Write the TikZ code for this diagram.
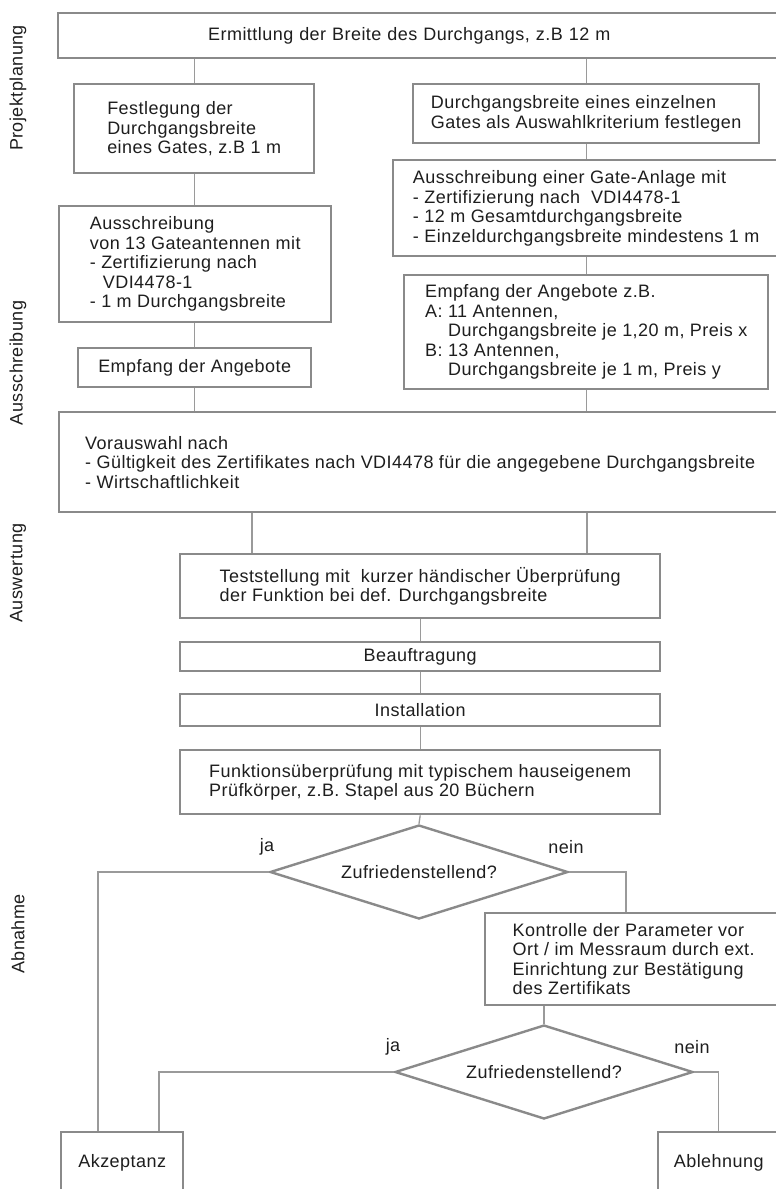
\documentclass[tikz,border=0pt]{standalone}
\usepackage{fontspec}
\setmainfont{Liberation Sans}[LetterSpace=2.5]
\usetikzlibrary{shapes.geometric}
\definecolor{rahmen}{HTML}{8A8A8A}
\definecolor{strich}{HTML}{9A9A9A}
\definecolor{schrift}{HTML}{1E1E1E}
\begin{document}
\begin{tikzpicture}[x=1pt, y=-1pt, font=\fontsize{18}{19.5}\selectfont, text=schrift,
    kasten/.style={draw=rahmen, line width=2.4pt, fill=white, anchor=north west, align=left, inner ysep=0pt},
    raute/.style={diamond, draw=rahmen, line width=2.4pt, fill=white, aspect=3.17, minimum width=298pt, minimum height=94pt, inner sep=0pt},
    verbinder/.style={draw=strich, line width=1.3pt},
    phase/.style={rotate=90}]
    \useasboundingbox (0,0) rectangle (776,1189);
    \clip (0,0) rectangle (776,1189);
    % Phasen am linken Rand
    \node[phase] (p1) at (18,88) {Projektplanung};
    \node[phase] (p2) at (18,363) {Ausschreibung};
    \node[phase] (p3) at (18,573) {Auswertung};
    \node[phase] (p4) at (18,934) {Abnahme};
    % Projektplanung
    \node[kasten, text width=423pt, inner xsep=150pt, minimum height=45pt] (ermitt) at (57,12) {Ermittlung der Breite des Durchgangs, z.B 12 m};
    \node[kasten, minimum width=240pt, minimum height=89pt] (festl) at (73,83) {Festlegung der\\Durchgangsbreite\\eines Gates, z.B 1 m};
    \node[kasten, minimum width=346pt, minimum height=59pt] (durchg) at (412,83) {Durchgangsbreite eines einzelnen\\Gates als Auswahlkriterium festlegen};
    % Ausschreibung
    \node[kasten, minimum width=272pt, minimum height=116pt] (ausschr) at (58,205) {Ausschreibung\\von 13 Gateantennen mit\\- Zertifizierung nach\\\hspace*{13pt}VDI4478-1\\- 1 m Durchgangsbreite};
    \node[kasten, minimum width=386pt, minimum height=96pt] (gate) at (392,159) {Ausschreibung einer Gate-Anlage mit\\- Zertifizierung nach \ VDI4478-1\\- 12 m Gesamtdurchgangsbreite\\- Einzeldurchgangsbreite mindestens 1 m};
    \node[kasten, minimum width=233pt, minimum height=39pt] (empf) at (77,347) {Empfang der Angebote};
    \node[kasten, minimum width=364pt, minimum height=114pt] (angeb) at (403,274) {Empfang der Angebote z.B.\\A: 11 Antennen,\\\hspace*{23pt}Durchgangsbreite je 1,20 m, Preis x\\B: 13 Antennen,\\\hspace*{23pt}Durchgangsbreite je 1 m, Preis y};
    % Auswertung
    \node[kasten, minimum width=722pt, minimum height=100pt] (vorausw) at (58,411) {Vorauswahl nach\\- Gültigkeit des Zertifikates nach VDI4478 für die angegebene Durchgangsbreite\\- Wirtschaftlichkeit};
    \node[kasten, minimum width=480pt, minimum height=64pt] (test) at (179,553) {Teststellung mit \ kurzer händischer Überprüfung\\der Funktion bei def. Durchgangsbreite};
    \node[kasten, minimum width=480pt, minimum height=29pt] (beauf) at (179,641) {Beauftragung};
    \node[kasten, minimum width=480pt, minimum height=32pt] (inst) at (179,693) {Installation};
    % Abnahme
    \node[kasten, minimum width=480pt, minimum height=64pt] (funkt) at (179,749) {Funktionsüberprüfung mit typischem hauseigenem\\Prüfkörper, z.B. Stapel aus 20 Büchern};
    \node[raute] (dia1) at (419,872) {Zufriedenstellend?};
    \node[kasten, minimum width=297pt, minimum height=92pt] (kontr) at (484,912) {Kontrolle der Parameter vor\\Ort / im Messraum durch ext.\\Einrichtung zur Bestätigung\\des Zertifikats};
    \node[raute] (dia2) at (544,1072) {Zufriedenstellend?};
    \node[kasten, minimum width=122pt, minimum height=61pt] (akz) at (60,1131) {Akzeptanz};
    \node[kasten, minimum width=121pt, minimum height=61pt] (abl) at (657,1131) {Ablehnung};
    \node (ja1) at (267,847) {ja};
    \node (nein1) at (566,847) {nein};
    \node (ja2) at (393,1047) {ja};
    \node (nein2) at (692,1047) {nein};
    % Verbindungen
    \coordinate (k1) at (98,0);
    \coordinate (k2) at (626,0);
    \coordinate (k3) at (159,0);
    \coordinate (v1) at (252,0);
    \coordinate (v2) at (587,0);
    \draw[verbinder] (ermitt.south -| festl.north) -- (festl.north);
    \draw[verbinder] (ermitt.south -| durchg.north) -- (durchg.north);
    \draw[verbinder] (festl.south) -- (festl.south |- ausschr.north);
    \draw[verbinder] (ausschr.south -| empf.north) -- (empf.north);
    \draw[verbinder] (durchg.south) -- (durchg.south |- gate.north);
    \draw[verbinder] (gate.south -| angeb.north) -- (angeb.north);
    \draw[verbinder] (empf.south) -- (empf.south |- vorausw.north);
    \draw[verbinder] (angeb.south) -- (angeb.south |- vorausw.north);
    \foreach \v in {v1,v2}
        \draw[verbinder] (vorausw.south -| \v) -- (test.north -| \v);
    \draw[verbinder] (test.south) -- (beauf.north);
    \draw[verbinder] (beauf.south) -- (inst.north);
    \draw[verbinder] (inst.south) -- (funkt.north);
    \draw[verbinder] (funkt.south) -- (dia1.north);
    \draw[verbinder] (dia1.west) -| (akz.north -| k1);
    \draw[verbinder] (dia1.east) -| (kontr.north -| k2);
    \draw[verbinder] (kontr.south -| dia2.north) -- (dia2.north);
    \draw[verbinder] (dia2.west) -| (akz.north -| k3);
    \draw[verbinder] (dia2.east) -| (abl.north);
\end{tikzpicture}
\end{document}
